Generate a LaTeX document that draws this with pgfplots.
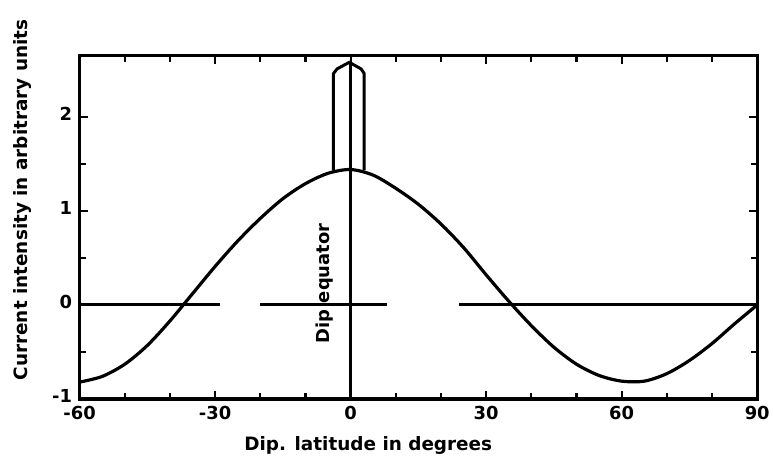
\documentclass[border=0pt]{standalone}
\usepackage{pgfplots}
\pgfplotsset{compat=1.18}
\usepackage{fontspec}
\setmainfont{DejaVu Sans}
\begin{document}
\begin{tikzpicture}
\begin{axis}[
  scale only axis, width=681pt, height=345pt,
  xmin=-60, xmax=90, ymin=-1, ymax=2.65,
  axis line style={line width=3.2pt},
  xtick={-60,-30,0,30,60,90},
  xticklabels={-60,-30,0,30,60,90},
  ytick={-1,0,1,2},
  yticklabels={-1,0,1,2},
  minor xtick={-50,-40,-20,-10,10,20,40,50,70,80},
  minor ytick={-0.5,0.5,1.5},
  tick align=inside,
  major tick length=8pt, minor tick length=6pt,
  every tick/.style={line width=2.2pt, black},
  tick label style={font=\fontsize{18}{20}\selectfont\bfseries},
  xticklabel style={yshift=-4pt},
  yticklabel style={xshift=-4pt, yshift=3pt},
  xlabel={Dip. latitude in degrees},
  ylabel={Current intensity in arbitrary units},
  label style={font=\fontsize{18.5}{20}\selectfont\bfseries},
  xlabel style={at={(axis description cs:0.426,-0.136)}, anchor=center},
  ylabel style={at={(axis description cs:-0.085,0.58)}, anchor=center},
  clip=false,
]
% zero line (with the breaks seen in the original)
\addplot[line width=3pt, black] coordinates {(-60,0) (-29,0)};
\addplot[line width=3pt, black] coordinates {(-20,0) (8,0)};
\addplot[line width=3pt, black] coordinates {(24,0) (90,0)};
% current curve
\addplot[line width=3.2pt, black, smooth] coordinates {
(-60,-0.82) (-55,-0.76) (-50,-0.63) (-45,-0.43) (-40,-0.17) (-35,0.12)
(-30,0.41) (-25,0.68) (-20,0.92) (-15,1.13) (-10,1.29) (-5,1.40) (0,1.44)
(5,1.38) (10,1.24) (15,1.07) (20,0.86) (25,0.61) (30,0.32) (35,0.04)
(40,-0.22) (45,-0.45) (50,-0.63) (55,-0.75) (60,-0.81) (65,-0.81)
(70,-0.73) (75,-0.59) (80,-0.41) (85,-0.20) (90,0.0)};
% dip equator line
\addplot[line width=3pt, black] coordinates {(0,-1) (0,2.58)};
% electrojet tube
\addplot[line width=3pt, black] coordinates {
(-3.8,1.43) (-3.8,2.46) (-3.0,2.51) (-0.3,2.58) (2.3,2.51) (3.0,2.46) (3.0,1.43)};
\node[rotate=90, font=\fontsize{18}{20}\selectfont\bfseries] at (axis cs:-5.8,0.23) {Dip equator};
\end{axis}
\path (current axis.south west) ++(-80pt,-51pt) coordinate (bl);
\path (current axis.north east) ++(12pt,56pt) coordinate (tr);
\path (bl) rectangle (tr);
\end{tikzpicture}
\end{document}
